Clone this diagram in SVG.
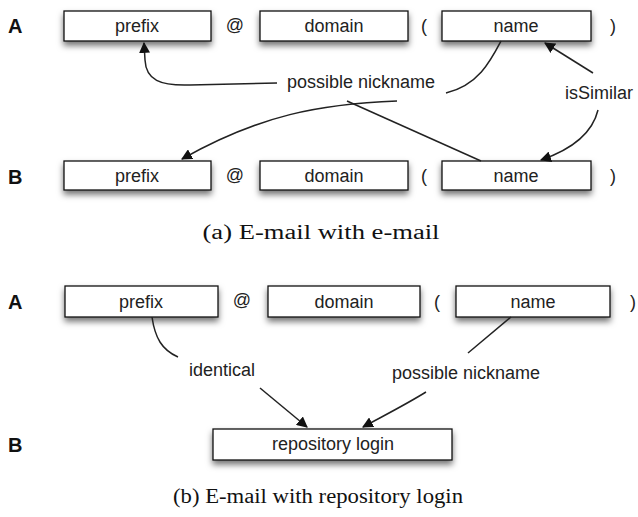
<svg xmlns="http://www.w3.org/2000/svg" width="638" height="517" viewBox="0 0 638 517">
<defs>
<filter id="sh" x="-10%" y="-30%" width="120%" height="190%">
<feDropShadow dx="0" dy="4" stdDeviation="3" flood-color="#000" flood-opacity="0.55"/>
</filter>
<marker id="ah" viewBox="0 0 10 10" refX="9" refY="5" markerWidth="11" markerHeight="11" markerUnits="userSpaceOnUse" orient="auto">
<path d="M0,0 L10,5 L0,10 z" fill="#111"/>
</marker>
<style>
.box{fill:#fff;stroke:#111;stroke-width:1.3;filter:url(#sh)}
.t{font-family:"Liberation Sans",Arial,sans-serif;font-size:18px;fill:#222;text-anchor:middle;dominant-baseline:central}
.lab{font-family:"Liberation Sans",Arial,sans-serif;font-size:20px;font-weight:bold;fill:#111;dominant-baseline:central}
.cap{font-family:"Liberation Serif","DejaVu Serif",serif;font-size:20px;fill:#111;text-anchor:middle}
.c{fill:none;stroke:#222;stroke-width:1.5}
.ca{fill:none;stroke:#222;stroke-width:1.5;marker-end:url(#ah)}
</style>
</defs>
<rect width="638" height="517" fill="#fff"/>

<!-- Part (a) -->
<g id="labelA1"><text class="lab" x="8" y="26">A</text></g>
<g id="labelB1"><text class="lab" x="8" y="177">B</text></g>
<g id="prefixA1"><rect class="box" x="64" y="11" width="147" height="30"/><text class="t" x="137" y="26">prefix</text></g>
<g id="at1"><text class="t" x="235" y="25">@</text></g>
<g id="domainA1"><rect class="box" x="260" y="11" width="148" height="30"/><text class="t" x="334" y="26">domain</text></g>
<g id="lp1"><text class="t" x="424" y="26">(</text></g>
<g id="nameA1"><rect class="box" x="442" y="11" width="149" height="30"/><text class="t" x="516" y="26">name</text></g>
<g id="rp1"><text class="t" x="613" y="26">)</text></g>

<g id="prefixB1"><rect class="box" x="64" y="161" width="147" height="29"/><text class="t" x="137" y="176">prefix</text></g>
<g id="at2"><text class="t" x="235" y="175">@</text></g>
<g id="domainB1"><rect class="box" x="260" y="161" width="148" height="29"/><text class="t" x="334" y="176">domain</text></g>
<g id="lp2"><text class="t" x="424" y="176">(</text></g>
<g id="nameB1"><rect class="box" x="442" y="161" width="149" height="29"/><text class="t" x="516" y="176">name</text></g>
<g id="rp2"><text class="t" x="613" y="176">)</text></g>

<g id="nick1"><text class="t" x="361" y="82">possible nickname</text></g>
<g id="sim1"><text class="t" x="599" y="93">isSimilar</text></g>

<g id="connectors1">
<path class="ca" d="M277,83 L190,85 C160,86 146,80 145,60 L144,43"/>
<path class="c" d="M501,41 C490,62 478,85 446,93"/>
<path class="ca" d="M397,101 C320,104 260,115 182,159"/>
<path class="c" d="M347,101 L481,161"/>
<path class="ca" d="M593,73 L545,43"/>
<path class="ca" d="M598,110 C592,135 570,150 541,160"/>
</g>
<g id="capA"><text class="cap" x="321" y="239" textLength="237" lengthAdjust="spacingAndGlyphs">(a) E-mail with e-mail</text></g>

<!-- Part (b) -->
<g id="labelA2"><text class="lab" x="8" y="302">A</text></g>
<g id="labelB2"><text class="lab" x="8" y="445">B</text></g>
<g id="prefixA2"><rect class="box" x="65" y="286" width="153" height="31"/><text class="t" x="141" y="302">prefix</text></g>
<g id="at3"><text class="t" x="242" y="300">@</text></g>
<g id="domainA2"><rect class="box" x="268" y="286" width="152" height="31"/><text class="t" x="344" y="302">domain</text></g>
<g id="lp3"><text class="t" x="437" y="302">(</text></g>
<g id="nameA2"><rect class="box" x="456" y="286" width="154" height="31"/><text class="t" x="533" y="302">name</text></g>
<g id="rp3"><text class="t" x="633" y="302">)</text></g>
<g id="repo"><rect class="box" x="213" y="429" width="239" height="31"/><text class="t" x="333" y="444">repository login</text></g>

<g id="ident"><text class="t" x="222" y="370">identical</text></g>
<g id="nick2"><text class="t" x="466" y="373">possible nickname</text></g>

<g id="connectors2">
<path class="c" d="M152,317 C155,338 162,350 178,357"/>
<path class="ca" d="M260,388 L307,427"/>
<path class="c" d="M511,317 L468,353"/>
<path class="ca" d="M426,392 C405,405 385,415 363,427"/>
</g>
<g id="capB"><text class="cap" x="318" y="503" textLength="290" lengthAdjust="spacingAndGlyphs">(b) E-mail with repository login</text></g>
</svg>
